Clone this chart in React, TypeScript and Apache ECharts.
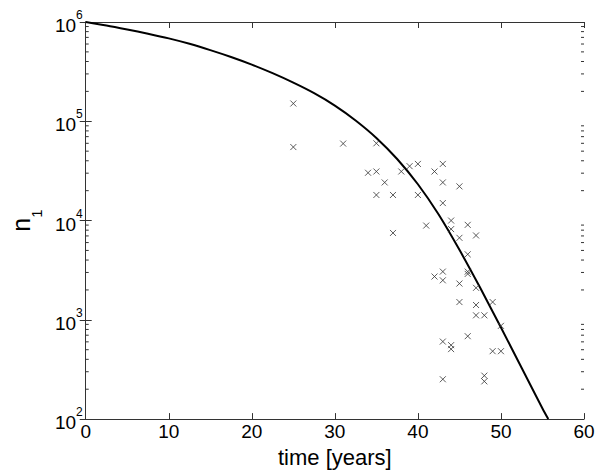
import React, { useEffect, useRef } from "react";
import * as echarts from "echarts";

// Model curve n1(t)
const curveT = [0, 2.5, 5, 7.5, 10, 12.5, 15, 17.5, 20, 22.5, 25, 27.5, 30, 32.5, 35, 37.5, 40, 42.5, 45, 47.5, 50, 52.5, 55, 55.7];
const curveN = [1e6, 9.23e5, 8.41e5, 7.62e5, 6.84e5, 6.03e5, 5.21e5, 4.44e5, 3.72e5, 3.05e5, 2.45e5, 1.92e5, 1.44e5, 1.02e5, 6.8e4, 4.17e4, 2.32e4, 1.15e4, 5.07e3, 2.1e3, 836, 327, 128, 100];

// Observed data (x markers)
const obsT = [25, 25, 31, 35, 34, 35, 36, 35, 37, 37, 38, 39, 40, 40, 41, 42, 43, 43, 43, 45, 44, 44, 45, 46, 47, 46, 46, 46, 42, 43, 43, 45, 47, 45, 47, 49, 47, 48, 46, 43, 44, 44, 49, 50, 43, 48, 48, 50];
const obsN = [1.51e5, 5.5e4, 5.96e4, 6.0e4, 3.03e4, 3.12e4, 2.42e4, 1.81e4, 1.81e4, 7.5e3, 3.12e4, 3.53e4, 3.72e4, 1.81e4, 8.9e3, 3.12e4, 3.72e4, 2.42e4, 1.5e4, 2.21e4, 1.0e4, 8.2e3, 6.7e3, 9.05e3, 7.08e3, 4.57e3, 3.06e3, 2.9e3, 2.73e3, 3.06e3, 2.5e3, 2.32e3, 2.1e3, 1.51e3, 1.41e3, 1.51e3, 1.11e3, 1.11e3, 684, 604, 556, 507, 483, 483, 252, 274, 240, 870];

const xTicks = [0, 10, 20, 30, 40, 50, 60];
const yMajor = [1e2, 1e3, 1e4, 1e5, 1e6];
const yMinor = [2, 3, 4, 5, 6, 7, 8, 9].flatMap((m) => [1e2, 1e3, 1e4, 1e5].map((d) => m * d));

const supMap: Record<string, string> = { "100": "2", "1000": "3", "10000": "4", "100000": "5", "1000000": "6" };

export default function App() {
  const ref = useRef<HTMLDivElement>(null);
  useEffect(() => {
    if (!ref.current) return;
    const chart = echarts.init(ref.current, null, { renderer: "svg" });
    const axisColor = "#333";
    const font = "Liberation Sans, Arial, Helvetica, sans-serif";
    chart.setOption({
      animation: false,
      backgroundColor: "#fff",
      textStyle: { fontFamily: font, color: "#000" },
      grid: { left: 78, right: 16, top: 22, bottom: 51, containLabel: false },
      xAxis: [
        {
          type: "value",
          min: xTicks[0],
          max: xTicks[xTicks.length - 1],
          interval: 10,
          position: "bottom",
          name: "time [years]",
          nameLocation: "middle",
          nameGap: 23,
          nameTextStyle: { fontSize: 22, color: "#000", fontFamily: font },
          axisLine: { show: true, lineStyle: { color: axisColor, width: 1 } },
          axisTick: { show: true, inside: true, length: 6, lineStyle: { color: axisColor } },
          axisLabel: { fontSize: 19, color: "#000", margin: 3, fontFamily: font },
          splitLine: { show: false },
        },
        {
          type: "value",
          min: xTicks[0],
          max: xTicks[xTicks.length - 1],
          interval: 10,
          position: "top",
          axisLine: { show: true, lineStyle: { color: axisColor, width: 1 } },
          axisTick: { show: true, inside: true, length: 6, lineStyle: { color: axisColor } },
          axisLabel: { show: false },
          splitLine: { show: false },
        },
      ],
      yAxis: [
        {
          type: "log",
          logBase: 10,
          min: yMajor[0],
          max: yMajor[yMajor.length - 1],
          position: "left",
          name: "{n|n}{s|1}",
          nameLocation: "middle",
          nameRotate: 90,
          nameGap: 46,
          nameTextStyle: {
            rich: {
              n: { fontSize: 25, fontFamily: font, color: "#000", lineHeight: 30, verticalAlign: "top" },
              s: { fontSize: 15, fontFamily: font, color: "#000", lineHeight: 30, verticalAlign: "bottom", padding: [0, 0, -6, 0] },
            },
          },
          axisLine: { show: true, lineStyle: { color: axisColor, width: 1 } },
          axisTick: { show: true, inside: true, length: 6, lineStyle: { color: axisColor } },
          axisLabel: {
            margin: 3,
            formatter: (v: number) => `{b|10}{p|${supMap[String(Math.round(v))] ?? ""}}`,
            rich: {
              b: { fontSize: 19, fontFamily: font, color: "#000", lineHeight: 26, verticalAlign: "bottom" },
              p: { fontSize: 12, fontFamily: font, color: "#000", lineHeight: 26, verticalAlign: "top" },
            },
          },
          splitLine: { show: false },
        },
        {
          type: "log",
          logBase: 10,
          min: yMajor[0],
          max: yMajor[yMajor.length - 1],
          position: "right",
          axisLine: { show: true, lineStyle: { color: axisColor, width: 1 } },
          axisTick: { show: true, inside: true, length: 6, lineStyle: { color: axisColor } },
          axisLabel: { show: false },
          splitLine: { show: false },
        },
      ],
      series: [
        {
          type: "custom",
          xAxisIndex: 0,
          yAxisIndex: 0,
          silent: true,
          data: yMinor.map((v) => [0, v]),
          renderItem: (params: any, api: any) => {
            const cs = params.coordSys;
            const y = api.coord([0, api.value(1)])[1];
            return {
              type: "group",
              children: [
                { type: "line", shape: { x1: cs.x, y1: y, x2: cs.x + 3, y2: y }, style: { stroke: axisColor, lineWidth: 1 } },
                { type: "line", shape: { x1: cs.x + cs.width, y1: y, x2: cs.x + cs.width - 3, y2: y }, style: { stroke: axisColor, lineWidth: 1 } },
              ],
            };
          },
        },
        {
          type: "line",
          xAxisIndex: 0,
          yAxisIndex: 0,
          data: curveT.map((t, i) => [t, curveN[i]]),
          smooth: 0.25,
          showSymbol: false,
          symbol: "none",
          lineStyle: { color: "#000", width: 2, join: "round" },
          z: 3,
        },
        {
          type: "scatter",
          xAxisIndex: 0,
          yAxisIndex: 0,
          data: obsT.map((t, i) => [t, obsN[i]]),
          symbol: "path://M0,0L10,10M10,0L0,10",
          symbolSize: 6,
          itemStyle: { color: "none", borderColor: "#333", borderWidth: 1 },
          z: 4,
        },
      ],
    });
    return () => chart.dispose();
  }, []);
  return <div ref={ref} style={{ position: "fixed", left: 0, top: 0, width: 600, height: 473, background: "#fff" }} />;
}
